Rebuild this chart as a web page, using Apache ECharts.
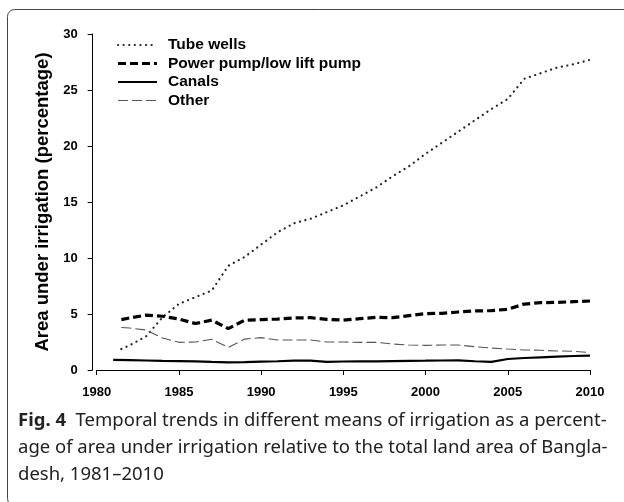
<!DOCTYPE html>
<html>
<head>
<meta charset="utf-8">
<script src="https://cdn.jsdelivr.net/npm/echarts@6/dist/echarts.min.js"></script>
<style>
  html, body { margin: 0; padding: 0; background: #fff; }
  #chart { width: 624px; height: 502px; }
</style>
</head>
<body>
<div id="chart"></div>
<script>
// years for each series (canals start in 1981, the rest half a year later)
const yearsCanals = [1981, 1982, 1983, 1984, 1985, 1986, 1987, 1988, 1989, 1990,
  1991, 1992, 1993, 1994, 1995, 1996, 1997, 1998, 1999, 2000,
  2001, 2002, 2003, 2004, 2005, 2006, 2007, 2008, 2009, 2010];
const yearsOthers = [1981.5, 1982, 1983, 1984, 1985, 1986, 1987, 1988, 1989, 1990,
  1991, 1992, 1993, 1994, 1995, 1996, 1997, 1998, 1999, 2000,
  2001, 2002, 2003, 2004, 2005, 2006, 2007, 2008, 2009, 2010];

// percentage of area under irrigation
const tubeWells = [1.87, 2.2, 3.0, 4.7, 5.9, 6.5, 7.1, 9.3, 10.1, 11.2,
  12.3, 13.1, 13.5, 14.1, 14.7, 15.5, 16.3, 17.3, 18.2, 19.3,
  20.3, 21.3, 22.3, 23.3, 24.2, 26.0, 26.5, 27.0, 27.3, 27.7];
const powerPump = [4.5, 4.65, 4.9, 4.8, 4.55, 4.15, 4.45, 3.7, 4.45, 4.5,
  4.55, 4.65, 4.67, 4.52, 4.46, 4.58, 4.7, 4.67, 4.85, 5.03,
  5.06, 5.18, 5.27, 5.3, 5.42, 5.89, 6.01, 6.04, 6.1, 6.16];
const canals = [0.9, 0.88, 0.85, 0.82, 0.8, 0.77, 0.72, 0.68, 0.7, 0.74,
  0.78, 0.83, 0.83, 0.72, 0.76, 0.77, 0.77, 0.8, 0.82, 0.83,
  0.85, 0.86, 0.78, 0.73, 0.98, 1.07, 1.13, 1.19, 1.25, 1.28];
const other = [3.8, 3.75, 3.57, 2.85, 2.47, 2.5, 2.74, 2.02, 2.76, 2.89,
  2.68, 2.68, 2.68, 2.5, 2.5, 2.47, 2.47, 2.32, 2.23, 2.2,
  2.23, 2.23, 2.08, 1.96, 1.87, 1.79, 1.76, 1.7, 1.67, 1.55];

const seriesNames = ['Tube wells', 'Power pump/low lift pump', 'Canals', 'Other'];
const yTicks = [0, 5, 10, 15, 20, 25, 30];
const xTicks = [1980, 1985, 1990, 1995, 2000, 2005, 2010];

const caption1 = 'Temporal trends in different means of irrigation as a percent-';
const caption2 = 'age of area under irrigation relative to the total land area of Bangla-';
const caption3 = 'desh, 1981\u20132010';

const pairs = (xs, ys) => xs.map((x, i) => [x, ys[i]]);

const axisFont = 'Liberation Sans, Arial, sans-serif';
const captionFont = 'Noto Sans, sans-serif';
const captionSize = 18.5;

// line styles, shared by the series and the hand-drawn legend
const lineStyles = [
  { color: '#222', width: 2.2, type: [0.1, 5.5], cap: 'round' },
  { color: '#000', width: 3.2, type: [8, 4] },
  { color: '#000', width: 2.2, type: 'solid' },
  { color: '#555', width: 1.1, type: [10, 4] },
];
const seriesData = [
  pairs(yearsOthers, tubeWells),
  pairs(yearsOthers, powerPump),
  pairs(yearsCanals, canals),
  pairs(yearsOthers, other),
];

const myChart = echarts.init(document.getElementById('chart'), null, { renderer: 'canvas' });

// legend drawn as graphic lines + texts (the built-in icons carry symbols)
const legendGraphic = [];
const legendRowY = [45, 63.5, 82, 100.5];
seriesNames.forEach((name, i) => {
  const ls = lineStyles[i];
  legendGraphic.push({
    type: 'line',
    silent: true,
    shape: { x1: 118, y1: legendRowY[i], x2: 157, y2: legendRowY[i] },
    style: {
      stroke: ls.color,
      lineWidth: ls.width,
      lineDash: ls.type === 'solid' ? null : ls.type,
      lineCap: ls.cap || 'butt',
    },
  });
  legendGraphic.push({
    type: 'text',
    silent: true,
    x: 168,
    y: legendRowY[i],
    style: {
      text: name,
      fontFamily: axisFont,
      fontWeight: 'bold',
      fontSize: 15.5,
      fill: '#000',
      verticalAlign: 'middle',
    },
  });
});

const option = {
  animation: false,
  backgroundColor: '#fff',
  grid: {
    left: 96.7,
    right: 34,
    top: 34,
    bottom: 132,
  },
  xAxis: {
    type: 'value',
    min: xTicks[0],
    max: xTicks[xTicks.length - 1],
    interval: 5,
    offset: 8,
    splitLine: { show: false },
    axisLine: { show: true, lineStyle: { color: '#000', width: 1 } },
    axisTick: { show: true, length: 5, lineStyle: { color: '#000' } },
    axisLabel: {
      margin: 8,
      color: '#000',
      fontFamily: axisFont,
      fontWeight: 'bold',
      fontSize: 13,
      formatter: (v) => String(v),
    },
  },
  yAxis: {
    type: 'value',
    min: yTicks[0],
    max: yTicks[yTicks.length - 1],
    interval: 5,
    offset: 4,
    name: 'Area under irrigation (percentage)',
    nameLocation: 'middle',
    nameGap: 40,
    nameTextStyle: {
      color: '#000',
      fontFamily: axisFont,
      fontWeight: 'bold',
      fontSize: 18.5,
    },
    splitLine: { show: false },
    axisLine: { show: true, lineStyle: { color: '#000', width: 1 } },
    axisTick: { show: true, length: 5, lineStyle: { color: '#000' } },
    axisLabel: {
      margin: 15,
      color: '#000',
      fontFamily: axisFont,
      fontWeight: 'bold',
      fontSize: 13,
    },
  },
  series: seriesNames.map((name, i) => ({
    name: name,
    type: 'line',
    data: seriesData[i],
    symbol: 'none',
    itemStyle: { color: lineStyles[i].color },
    lineStyle: lineStyles[i],
  })),
  graphic: [
    {
      // figure frame, open towards the right and bottom
      type: 'rect',
      silent: true,
      shape: { x: 7.5, y: 9.5, width: 700, height: 496, r: 7 },
      style: { fill: 'none', stroke: '#444', lineWidth: 1 },
    },
    ...legendGraphic,
    {
      type: 'text',
      left: 18,
      top: 411,
      style: {
        text: '{b|Fig. 4}  ' + caption1,
        rich: {
          b: { fontFamily: captionFont, fontWeight: 'bold', fontSize: captionSize, fill: '#222' },
        },
        fontFamily: captionFont,
        fontSize: captionSize,
        fill: '#222',
      },
    },
    {
      type: 'text',
      left: 18,
      top: 438,
      style: { text: caption2, fontFamily: captionFont, fontSize: captionSize, fill: '#222' },
    },
    {
      type: 'text',
      left: 18,
      top: 465,
      style: { text: caption3, fontFamily: captionFont, fontSize: captionSize, fill: '#222' },
    },
  ],
};

myChart.setOption(option);
window.addEventListener('resize', () => myChart.resize());
</script>
</body>
</html>
